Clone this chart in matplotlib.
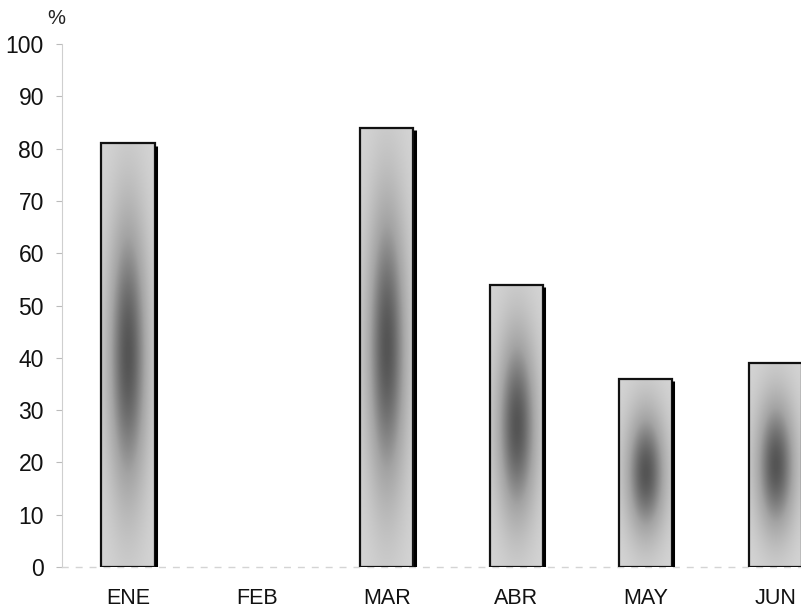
import numpy as np
import matplotlib
matplotlib.use("Agg")
import matplotlib.pyplot as plt
from matplotlib.colors import LinearSegmentedColormap

# porcentaje mensual
meses = ["ENE", "FEB", "MAR", "ABR", "MAY", "JUN"]
valores = [81, 0, 84, 54, 36, 39]
yticks = list(range(0, 101, 10))

plt.rcParams["font.family"] = ["Liberation Sans", "DejaVu Sans"]

fig = plt.figure(figsize=(8.01, 6.16), dpi=100)
ax = fig.add_axes([0.0774, 0.0795, 0.939, 0.849])

x = np.arange(len(meses))
ancho = 0.41
bars = ax.bar(x, valores, width=ancho, facecolor="none",
              edgecolor="#111111", linewidth=1.6, zorder=3)

# relleno degradado: claro en los bordes, oscuro hacia el centro
cmap = LinearSegmentedColormap.from_list(
    "gris", ["#d6d6d6", "#a4a4a4", "#555555"])
gy, gx = np.mgrid[0:1:200j, 0:1:60j]
grad = np.exp(-((gx - 0.5) / 0.38) ** 2 - ((gy - 0.5) / 0.34) ** 2)
for b, v in zip(bars, valores):
    if v <= 0:
        b.set_linewidth(0)
        continue
    x0, w = b.get_x(), b.get_width()
    ax.imshow(grad, cmap=cmap, vmin=0, vmax=1, origin="lower",
              extent=[x0, x0 + w, 0, v], aspect="auto",
              interpolation="bilinear", zorder=2)
    # sombra del lado derecho
    ax.plot([x0 + w + 0.008, x0 + w + 0.008], [0, v - 0.4],
            color="black", lw=2.2, zorder=4, solid_capstyle="butt")

ax.set_xlim(-0.51, 5.3)
ax.set_ylim(0, 100)
ax.set_yticks(yticks)
ax.set_xticks(x)
ax.set_xticklabels(meses)

for s in ["top", "right"]:
    ax.spines[s].set_visible(False)
ax.spines["left"].set_color("#cfcfcf")
ax.spines["left"].set_linewidth(0.8)
ax.spines["bottom"].set_color("#d4d4d4")
ax.spines["bottom"].set_linewidth(1.0)
ax.spines["bottom"].set_linestyle((0, (4, 6)))

ax.tick_params(axis="y", length=4, width=0.8, color="#bbbbbb",
               labelsize=16.5, pad=9, labelcolor="#111111")
ax.tick_params(axis="x", length=0, labelsize=15.5, pad=15,
               labelcolor="#111111")

fig.text(56 / 801, 1 - 18 / 616, "%", fontsize=14.5, ha="center",
         va="center", color="#222222")

fig.savefig("out.png", dpi=100)
